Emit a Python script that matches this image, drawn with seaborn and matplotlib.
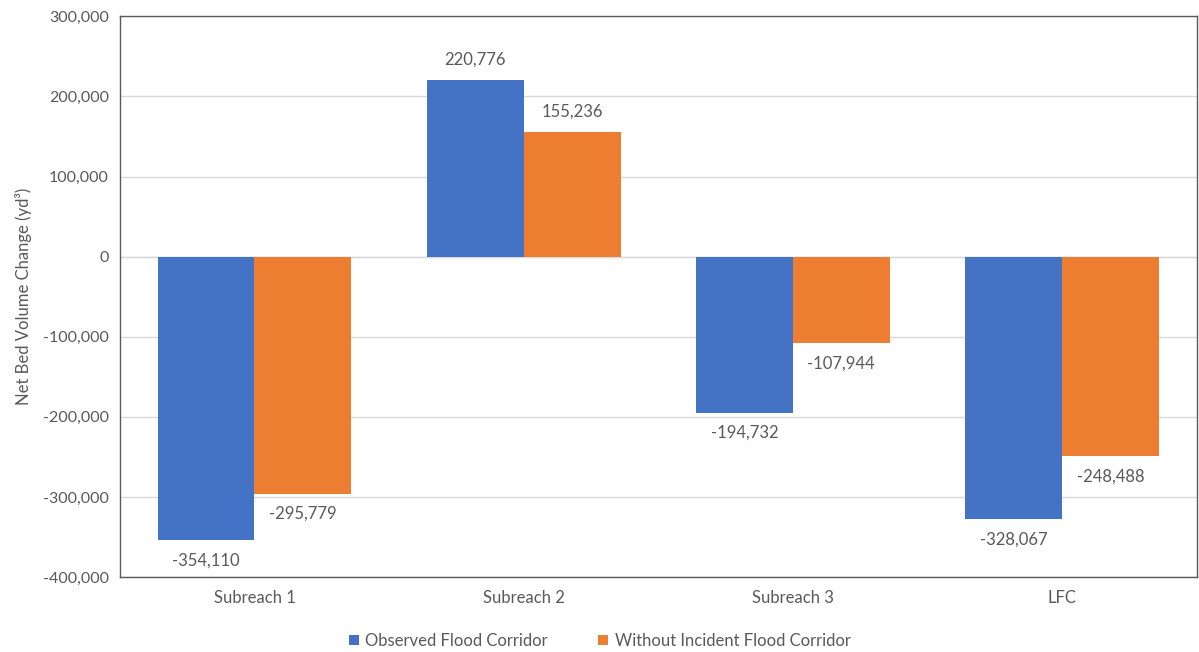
import pandas as pd
import matplotlib
matplotlib.use("Agg")
import matplotlib.pyplot as plt
from matplotlib.ticker import FuncFormatter
import seaborn as sns

categories = ["Subreach 1", "Subreach 2", "Subreach 3", "LFC"]
observed = [-354110, 220776, -194732, -328067]
without_incident = [-295779, 155236, -107944, -248488]
series_names = ["Observed Flood Corridor", "Without Incident Flood Corridor"]
colors = ["#4472C4", "#ED7D31"]

df = pd.DataFrame({
    "category": categories * 2,
    "series": [series_names[0]] * 4 + [series_names[1]] * 4,
    "value": observed + without_incident,
})

sns.set_style("white")
plt.rcParams["font.family"] = ["Lato", "DejaVu Sans"]
text_color = "#595959"

fig = plt.figure(figsize=(11.99, 6.52), dpi=100)
ax = fig.add_axes([0.100, 0.115, 0.898, 0.860])

sns.barplot(data=df, x="category", y="value", hue="series", palette=colors,
            width=0.72, gap=0, saturation=1, ax=ax, legend=True, zorder=3,
            linewidth=0, edgecolor="none")

for cont in ax.containers:
    ax.bar_label(cont, labels=[f"{v:,.0f}" for v in cont.datavalues],
                 padding=9, fontsize=12, color=text_color)

ax.set_ylim(-400000, 300000)
ax.set_xlim(-0.5, 3.5)
ax.set_yticks(range(-400000, 300001, 100000))
ax.yaxis.set_major_formatter(FuncFormatter(lambda v, p: f"{v:,.0f}"))
ax.yaxis.grid(True, color="#D9D9D9", linewidth=1, zorder=0)
ax.set_axisbelow(True)
ax.axhline(0, color="#D9D9D9", linewidth=1, zorder=1)
ax.set_xlabel("")
ax.set_ylabel("Net Bed Volume Change (yd³)", fontsize=12, color=text_color, labelpad=8)
ax.tick_params(axis="y", length=0, labelsize=11.5, labelcolor=text_color, pad=8)
ax.tick_params(axis="x", length=0, labelsize=12, labelcolor=text_color, pad=9)
for s in ax.spines.values():
    s.set_visible(True)
    s.set_color("#595959")
    s.set_linewidth(1)

handles, labels = ax.get_legend_handles_labels()
ax.legend_.remove()
fig.legend(handles, labels, loc="lower center", bbox_to_anchor=(0.5, -0.018),
           ncol=2, frameon=False, fontsize=12, labelcolor=text_color,
           handlelength=0.6, handleheight=0.6, handletextpad=0.4, columnspacing=3)

fig.savefig("out.png", dpi=100)
